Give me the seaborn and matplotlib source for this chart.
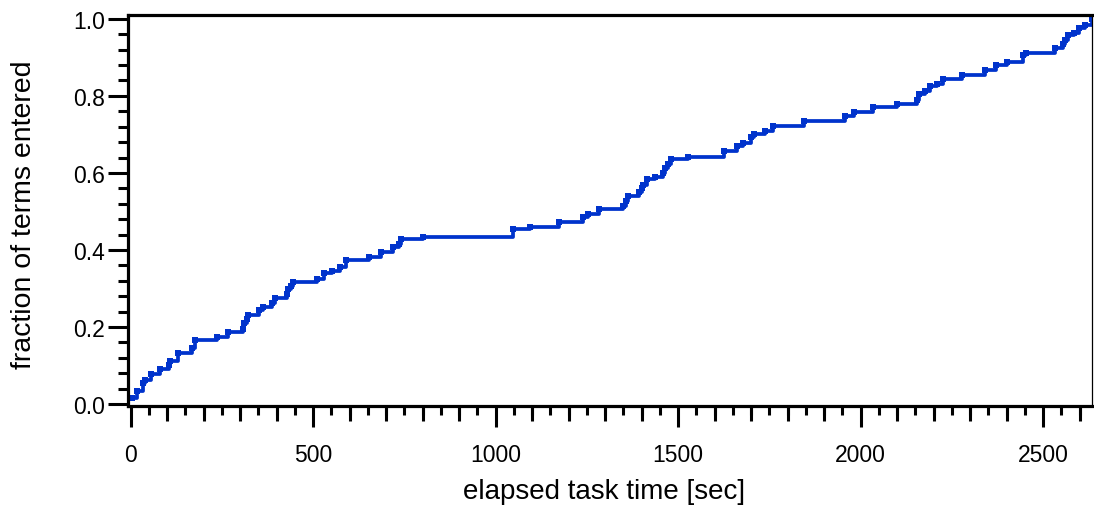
import numpy as np
import pandas as pd
import matplotlib
matplotlib.use("Agg")
import matplotlib.pyplot as plt
import seaborn as sns
from matplotlib.ticker import MultipleLocator, FixedLocator

# ---- data (step points: time [s], cumulative fraction) ----
elapsed_sec = [3, 17, 33, 40, 55, 81, 104, 108, 129, 168, 177, 238, 268, 307, 311,
               318, 323, 353, 362, 387, 396, 428, 432, 440, 446, 510, 530, 553, 574,
               590, 654, 686, 720, 736, 740, 800, 1049, 1095, 1174, 1239, 1254, 1284,
               1350, 1357, 1363, 1394, 1400, 1405, 1414, 1437, 1458, 1464, 1473, 1480,
               1526, 1626, 1662, 1677, 1699, 1708, 1738, 1759, 1844, 1956, 1983, 2035,
               2101, 2154, 2160, 2177, 2189, 2210, 2225, 2277, 2341, 2371, 2402, 2446,
               2453, 2533, 2554, 2560, 2569, 2585, 2599, 2615, 2633]
fraction_entered = [0.015, 0.035, 0.055, 0.062, 0.077, 0.091, 0.101, 0.112, 0.132, 0.145,
                    0.167, 0.173, 0.186, 0.195, 0.210, 0.221, 0.231, 0.245, 0.251, 0.262,
                    0.275, 0.286, 0.299, 0.307, 0.318, 0.325, 0.339, 0.346, 0.355, 0.375,
                    0.382, 0.396, 0.409, 0.416, 0.429, 0.435, 0.455, 0.460, 0.472, 0.485,
                    0.494, 0.507, 0.515, 0.527, 0.541, 0.550, 0.560, 0.569, 0.583, 0.590,
                    0.601, 0.613, 0.623, 0.637, 0.642, 0.656, 0.670, 0.678, 0.693, 0.701,
                    0.710, 0.721, 0.736, 0.749, 0.758, 0.771, 0.778, 0.790, 0.805, 0.812,
                    0.825, 0.831, 0.844, 0.853, 0.866, 0.879, 0.887, 0.905, 0.912, 0.924,
                    0.935, 0.944, 0.957, 0.964, 0.976, 0.984, 1.000]

x_major_ticks = [0, 500, 1000, 1500, 2000, 2500]
x_tick_labels = ["0", "500", "1000", "1500", "2000", "2500"]
y_major_ticks = [0.0, 0.2, 0.4, 0.6, 0.8, 1.0]
y_tick_labels = ["0.0", "0.2", "0.4", "0.6", "0.8", "1.0"]

LINE_COLOR = "#0033cc"

sns.set_style("ticks")
plt.rcParams["font.family"] = ["Liberation Sans", "DejaVu Sans"]
plt.rcParams["text.color"] = "black"
plt.rcParams["axes.labelcolor"] = "black"
plt.rcParams["xtick.color"] = "black"
plt.rcParams["ytick.color"] = "black"

fig = plt.figure(figsize=(10.94, 5.10), dpi=100)
W, H = 1094, 510
ax = fig.add_axes([128 / W, 1 - 407 / H, (1092 - 128) / W, (407 - 16) / H])

df = pd.DataFrame({"t": elapsed_sec, "f": fraction_entered})
sns.lineplot(data=df, x="t", y="f", ax=ax, estimator=None, sort=False,
             drawstyle="steps-post", color=LINE_COLOR, linewidth=2.7,
             marker="s", markersize=4.4, markeredgewidth=0,
             markeredgecolor=LINE_COLOR, markerfacecolor=LINE_COLOR, clip_on=True)

ax.set_xlim(-7, 2634)
ax.set_ylim(-0.005, 1.01)

# spines
for s in ["left", "bottom", "top"]:
    ax.spines[s].set_linewidth(2.3)
    ax.spines[s].set_color("black")
ax.spines["right"].set_linewidth(0.9)
ax.spines["right"].set_color("black")
ax.spines["right"].set_visible(True)
ax.spines["top"].set_visible(True)

# ticks
ax.xaxis.set_major_locator(FixedLocator(x_major_ticks))
ax.set_xticklabels(x_tick_labels)
ax.xaxis.set_minor_locator(MultipleLocator(50))
ax.yaxis.set_major_locator(FixedLocator(y_major_ticks))
ax.set_yticklabels(y_tick_labels)
ax.yaxis.set_minor_locator(MultipleLocator(0.04))

ax.tick_params(axis="x", which="major", direction="out", length=15, width=2.2,
               labelsize=16.5, pad=12, color="black", labelcolor="black")
ax.tick_params(axis="x", which="minor", direction="out", length=6.5, width=2.2, color="black")
ax.tick_params(axis="y", which="major", direction="out", length=14.5, width=2.2,
               labelsize=16.5, pad=2, color="black", labelcolor="black")
ax.tick_params(axis="y", which="minor", direction="out", length=7.2, width=2.2, color="black")

# intermediate-length ticks every 100 s
sec = ax.secondary_xaxis("bottom")
sec.set_xticks([v for v in range(100, 2700, 100) if v % 500 != 0])
sec.tick_params(axis="x", which="major", direction="out", length=11, width=2.2,
                labelbottom=False, color="black")
sec.tick_params(axis="x", which="minor", length=0)
sec.spines["bottom"].set_visible(False)

ax.set_xlabel("elapsed task time [sec]", fontsize=20, color="black")
ax.set_ylabel("fraction of terms entered", fontsize=20.5, color="black")
ax.xaxis.set_label_coords((604 - 128) / 964, (407 - 479) / 391)
ax.yaxis.set_label_coords((37 - 128) / 964, 0.5 + (211.5 - 215) / 391)

fig.savefig("out.png", dpi=100)
